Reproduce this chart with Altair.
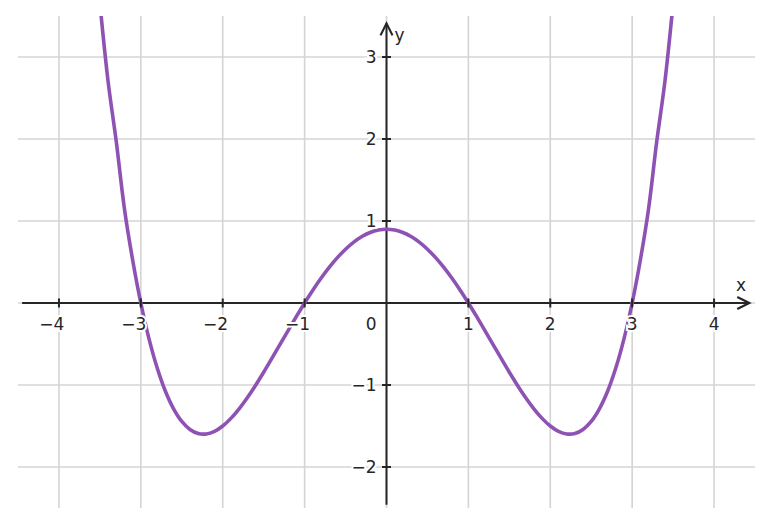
import altair as alt
import pandas as pd

# Curve values
curve_x = [-3.5, -3.4, -3.3, -3.2, -3.1, -3.0, -2.9, -2.8, -2.7, -2.6, -2.5, -2.4, -2.3, -2.2, -2.1,
           -2.0, -1.9, -1.8, -1.7, -1.6, -1.5, -1.4, -1.3, -1.2, -1.1, -1.0, -0.9, -0.8, -0.7, -0.6,
           -0.5, -0.4, -0.3, -0.2, -0.1, 0.0, 0.1, 0.2, 0.3, 0.4, 0.5, 0.6, 0.7, 0.8, 0.9, 1.0,
           1.1, 1.2, 1.3, 1.4, 1.5, 1.6, 1.7, 1.8, 1.9, 2.0, 2.1, 2.2, 2.3, 2.4, 2.5, 2.6, 2.7,
           2.8, 2.9, 3.0, 3.1, 3.2, 3.3, 3.4, 3.5]
curve_y = [3.656, 2.703, 1.969, 1.146, 0.525, 0.0, -0.437, -0.793, -1.076, -1.290, -1.444, -1.542,
           -1.592, -1.597, -1.565, -1.5, -1.407, -1.290, -1.155, -1.005, -0.844, -0.676, -0.504,
           -0.333, -0.164, 0.0, 0.156, 0.301, 0.434, 0.553, 0.656, 0.743, 0.811, 0.860, 0.890, 0.9,
           0.890, 0.860, 0.811, 0.743, 0.656, 0.553, 0.434, 0.301, 0.156, 0.0, -0.164, -0.333,
           -0.504, -0.676, -0.844, -1.005, -1.155, -1.290, -1.407, -1.5, -1.565, -1.597, -1.592,
           -1.542, -1.444, -1.290, -1.076, -0.793, -0.437, 0.0, 0.525, 1.146, 1.969, 2.703, 3.656]

grid_x = [-4, -3, -2, -1, 0, 1, 2, 3, 4]
grid_y = [-2, -1, 0, 1, 2, 3]
x_ticks = [-4, -3, -2, -1, 1, 2, 3, 4]
x_labels = ["\u22124", "\u22123", "\u22122", "\u22121", "1", "2", "3", "4"]
y_ticks = [-2, -1, 1, 2, 3]
y_labels = ["\u22122", "\u22121", "1", "2", "3"]
x_axis_ends = [-4.45, 4.43]
y_axis_ends = [-2.46, 3.41]

X_DOM = [-4.5, 4.5]
Y_DOM = [-2.5, 3.5]
INK = "#262626"
PURPLE = "#8e52b4"
GRID = "#d4d4d4"
FONT = "DejaVu Sans"
FS = 17

xs = alt.Scale(domain=X_DOM, nice=False, zero=False)
ys = alt.Scale(domain=Y_DOM, nice=False, zero=False)


def X(f):
    return alt.X(f, scale=xs, axis=None)


def Y(f):
    return alt.Y(f, scale=ys, axis=None)


curve_df = pd.DataFrame({"x": curve_x, "y": curve_y})

vgrid = alt.Chart(pd.DataFrame({"x": grid_x, "y": [Y_DOM[0]] * len(grid_x), "y2": [Y_DOM[1]] * len(grid_x)})).mark_rule(
    color=GRID, strokeWidth=1.6).encode(x=X("x:Q"), y=Y("y:Q"), y2="y2:Q")
hgrid = alt.Chart(pd.DataFrame({"y": grid_y, "x": [X_DOM[0]] * len(grid_y), "x2": [X_DOM[1]] * len(grid_y)})).mark_rule(
    color=GRID, strokeWidth=1.6).encode(y=Y("y:Q"), x=X("x:Q"), x2="x2:Q")

xline = alt.Chart(pd.DataFrame({"x": [x_axis_ends[0]], "x2": [x_axis_ends[1]], "y": [0]})).mark_rule(
    color=INK, strokeWidth=2).encode(x=X("x:Q"), x2="x2:Q", y=Y("y:Q"))
yline = alt.Chart(pd.DataFrame({"y": [y_axis_ends[0]], "y2": [y_axis_ends[1]], "x": [0]})).mark_rule(
    color=INK, strokeWidth=2).encode(y=Y("y:Q"), y2="y2:Q", x=X("x:Q"))

xarrow = alt.Chart(pd.DataFrame({"x": [x_axis_ends[1]], "y": [0]})).mark_point(
    shape="M-2,-1L0,0L-2,1", size=144, filled=False, stroke=INK, strokeWidth=2.2, opacity=1).encode(
    x=X("x:Q"), y=Y("y:Q"))
yarrow = alt.Chart(pd.DataFrame({"x": [0], "y": [y_axis_ends[1]]})).mark_point(
    shape="M-1,2L0,0L1,2", size=144, filled=False, stroke=INK, strokeWidth=2.2, opacity=1).encode(
    x=X("x:Q"), y=Y("y:Q"))

curve = alt.Chart(curve_df).mark_line(color=PURPLE, strokeWidth=3.6, interpolate="catmull-rom", clip=True).encode(
    x=X("x:Q"), y=Y("y:Q"))

xt_df = pd.DataFrame({"x": x_ticks, "y": [0] * len(x_ticks), "label": x_labels})
yt_df = pd.DataFrame({"y": y_ticks, "x": [0] * len(y_ticks), "label": y_labels})

xticks = alt.Chart(xt_df).mark_tick(orient="vertical", size=9, thickness=2, color=INK, opacity=1).encode(
    x=X("x:Q"), y=Y("y:Q"))
yticks = alt.Chart(yt_df).mark_tick(orient="horizontal", size=9, thickness=2, color=INK, opacity=1).encode(
    x=X("x:Q"), y=Y("y:Q"))


def text_pair(df, **kw):
    enc = dict(x=X("x:Q"), y=Y("y:Q"), text="label:N")
    halo = alt.Chart(df).mark_text(font=FONT, fontSize=FS, color="white", stroke="white",
                                   strokeWidth=4, **kw).encode(**enc)
    ink = alt.Chart(df).mark_text(font=FONT, fontSize=FS, color=INK, **kw).encode(**enc)
    return [halo, ink]


zero_df = pd.DataFrame({"x": [0], "y": [0], "label": ["0"]})
xname_df = pd.DataFrame({"x": [4.33], "y": [0], "label": ["x"]})
yname_df = pd.DataFrame({"x": [0], "y": [3.2], "label": ["y"]})

labels = []
labels += text_pair(xt_df, align="right", dx=5.4, dy=27, baseline="alphabetic")
labels += text_pair(yt_df, align="right", dx=-10, dy=6, baseline="alphabetic")
labels += text_pair(zero_df, align="right", dx=-10, dy=27, baseline="alphabetic")
labels += text_pair(xname_df, align="center", dy=-12, baseline="alphabetic")
labels += text_pair(yname_df, align="left", dx=8, baseline="alphabetic")

chart = alt.layer(vgrid, hgrid, xline, yline, curve, xticks, yticks, xarrow, yarrow, *labels).properties(
    width=737, height=492,
    autosize=alt.AutoSizeParams(type="none"),
    padding={"left": 10, "top": 8, "right": 0, "bottom": 0},
    background="white",
).configure_view(stroke=None)

chart.save("out.html", embed_options={"renderer": "svg", "actions": False})
